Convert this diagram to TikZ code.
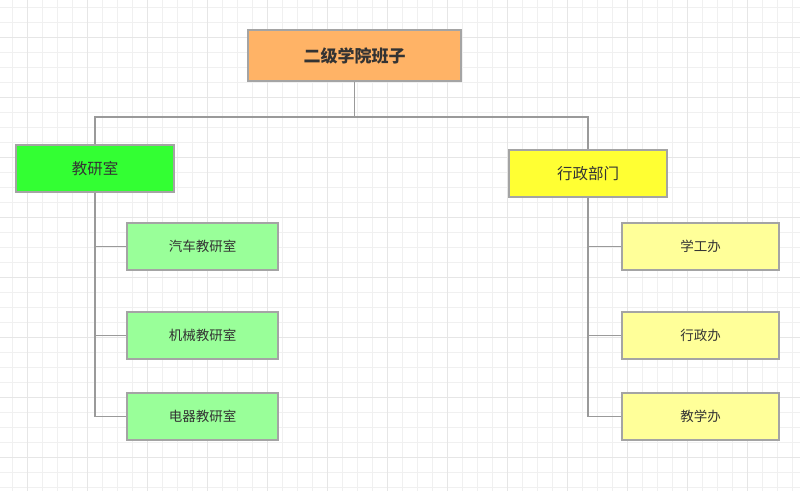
\documentclass[tikz,border=0pt]{standalone}
\usepackage{fontspec}
\usepackage{tikz}
\usetikzlibrary{positioning}
\newfontfamily\cjk{Noto Sans CJK SC}
\definecolor{gridc}{HTML}{F0F0F0}
\definecolor{gridm}{HTML}{E6E6E6}
\definecolor{linec}{HTML}{9A9A9A}
\definecolor{txtc}{HTML}{333333}
\definecolor{topc}{HTML}{FFB366}
\definecolor{deptA}{HTML}{33FF33}
\definecolor{deptB}{HTML}{FFFF33}
\definecolor{subA}{HTML}{99FF99}
\definecolor{subB}{HTML}{FFFF99}

\begin{document}
\begin{tikzpicture}[x=1pt, y=-1pt, font=\cjk, text=txtc,
  box/.style={draw=linec!90, line width=1.8pt, align=center, inner sep=0pt},
  topbox/.style={box, fill=topc, minimum width=213pt, minimum height=51pt, font=\cjk\bfseries\fontsize{17}{20}\selectfont},
  deptbox/.style={box, minimum width=158pt, minimum height=47pt, font=\cjk\fontsize{15.5}{18}\selectfont},
  subbox/.style={box, minimum height=47pt, font=\cjk\fontsize{13.5}{16}\selectfont},
  link/.style={draw=linec, line width=1.5pt}]
  \useasboundingbox (0,0) rectangle (800,491);
  \fill[white] (0,0) rectangle (800,491);
  % background grid
  \foreach \gx in {0,...,52} \draw[gridc, line width=1pt] (12.7+15*\gx,0) -- (12.7+15*\gx,491);
  \foreach \gy in {0,...,32} \draw[gridc, line width=1pt] (0,7.5+15*\gy) -- (800,7.5+15*\gy);
  \foreach \gx in {0,...,13} \draw[gridm, line width=1pt] (27.7+60*\gx,0) -- (27.7+60*\gx,491);
  \foreach \gy in {0,...,8} \draw[gridm, line width=1pt] (0,37.5+60*\gy) -- (800,37.5+60*\gy);
  % nodes
  \node[topbox] (top) at (354.5,55.5) {二级学院班子};
  \node[deptbox, fill=deptA] (jys) at (95,168.5) {教研室};
  \node[deptbox, fill=deptB] (xzbm) at (588,173.5) {行政部门};
  \node[subbox, fill=subA, minimum width=151pt] (qc) at (202.5,246.5) {汽车教研室};
  \node[subbox, fill=subA, minimum width=151pt] (jx) at (202.5,335.5) {机械教研室};
  \node[subbox, fill=subA, minimum width=151pt] (dq) at (202.5,416.5) {电器教研室};
  \node[subbox, fill=subB, minimum width=157pt] (xg) at (700.5,246.5) {学工办};
  \node[subbox, fill=subB, minimum width=157pt] (xzb) at (700.5,335.5) {行政办};
  \node[subbox, fill=subB, minimum width=157pt] (jxb) at (700.5,416.5) {教学办};
  % connectors
  \draw[link] (top.south) -- ++(0,35) coordinate (hub);
  \draw[link] (hub) -| (jys.north);
  \draw[link] (hub) -| (xzbm.north);
  \draw[link] (jys.south) |- (qc.west);
  \draw[link] (jys.south) |- (jx.west);
  \draw[link] (jys.south) |- (dq.west);
  \draw[link] (xzbm.south) |- (xg.west);
  \draw[link] (xzbm.south) |- (xzb.west);
  \draw[link] (xzbm.south) |- (jxb.west);
\end{tikzpicture}
\end{document}
